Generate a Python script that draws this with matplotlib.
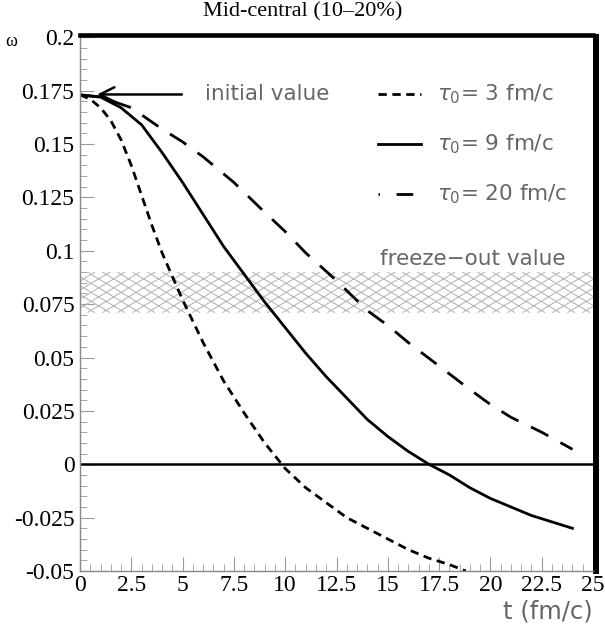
import numpy as np
import matplotlib.pyplot as plt
from matplotlib.ticker import MultipleLocator
from matplotlib.collections import LineCollection
from matplotlib.patches import Rectangle

# values
t3 = [0, 0.5, 1, 1.5, 2, 2.5, 3, 3.5, 4, 4.5, 5, 6, 7, 8, 9, 10, 11, 12, 13, 14, 15, 16, 17, 18, 18.8]
w3 = [0.173, 0.171, 0.167, 0.161, 0.152, 0.140, 0.126, 0.112, 0.099, 0.088, 0.077, 0.057, 0.039, 0.024, 0.010, -0.002, -0.011,
      -0.018, -0.025, -0.030, -0.035, -0.040, -0.044, -0.047, -0.050]
t9 = [0, 1, 2, 3, 4, 5, 6, 7, 8, 9, 10, 11, 12, 13, 14, 15, 16, 17, 18, 19, 20, 21, 22, 23, 24]
w9 = [0.173, 0.172, 0.167, 0.159, 0.146, 0.132, 0.117, 0.102, 0.089, 0.076, 0.064, 0.052, 0.041, 0.031, 0.021, 0.013, 0.006, 0.0,
      -0.005, -0.011, -0.016, -0.020, -0.024, -0.027, -0.030]
t20 = [0, 1, 2.5, 4, 5, 6, 7.5, 9, 10, 11, 12.5, 14, 15, 16, 17.5, 19, 20, 21, 22.5, 24]
w20 = [0.173, 0.172, 0.167, 0.157, 0.151, 0.144, 0.132, 0.118, 0.109, 0.099, 0.086, 0.072, 0.065, 0.057, 0.046, 0.035, 0.028, 0.022, 0.015, 0.007]
freeze_lo, freeze_hi = 0.071, 0.090
labels = [r'$\tau_0$= 3 fm/c', r'$\tau_0$= 9 fm/c', r'$\tau_0$= 20 fm/c']

plt.rcParams['mathtext.fontset'] = 'dejavusans'

fig = plt.figure(figsize=(6.05, 6.25), dpi=100)
ax = fig.add_axes([0.1322, 0.0864, 0.848, 0.854])
ax.set_xlim(0, 25)
ax.set_ylim(-0.05, 0.2)

# frame first: moving a spine resets the ticks
for s in ['left', 'bottom']:
    ax.spines[s].set_color('#888888')
    ax.spines[s].set_linewidth(1)
ax.spines['top'].set_color('black')
ax.spines['top'].set_linewidth(3.3)
ax.spines['top'].set_position(('outward', 1.6))
ax.spines['top'].set_capstyle('projecting')
ax.spines['right'].set_color('black')
ax.spines['right'].set_linewidth(4.3)
ax.spines['right'].set_position(('outward', 2.2))

# cross-hatched freeze-out band, diamonds wider than tall
band = Rectangle((0, freeze_lo), 25, freeze_hi - freeze_lo, facecolor='none', edgecolor='none')
ax.add_patch(band)
to_px = ax.transData
(xl, ylo), (xr, yhi) = to_px.transform([(0, freeze_lo), (25, freeze_hi)])
slope = 0.6
run = (yhi - ylo) / slope
segs = []
for x0 in np.arange(xl - run, xr + 15, 15):
    segs.append([(x0, ylo), (x0 + run, yhi)])
    segs.append([(x0, yhi), (x0 + run, ylo)])
segs = [to_px.inverted().transform(s) for s in segs]
hatch = LineCollection(segs, colors='#b0b0b0', linewidths=0.7)
ax.add_collection(hatch)
hatch.set_clip_path(band)

ax.axhline(0, color='black', lw=1.8)

ax.plot(t3, w3, color='black', lw=2, dashes=(3, 2))
ax.plot(t9, w9, color='black', lw=2)
ax.plot(t20, w20, color='black', lw=2, dashes=(7, 5))

gray = '#666666'
ax.text(14.6, freeze_hi + 0.0015, 'freeze\u2212out value', color=gray, fontsize=15.5, va='bottom')
ax.annotate('', xy=(0.7, 0.1732), xytext=(5.1, 0.1732),
            arrowprops=dict(arrowstyle='->', color='black', lw=1.8, mutation_scale=26))
ax.text(6.1, 0.1732, 'initial value', color=gray, fontsize=15.5, va='center')

# legend by hand
ly = [0.1732, 0.1498, 0.1264]
styles = [dict(dashes=(3, 2)), dict(), dict(dashes=(0.5, 6, 6, 3))]
for y, lab, st in zip(ly, labels, styles):
    ax.plot([14.5, 16.6], [y, y], color='black', lw=2, **st)
    ax.text(17.4, y, lab, color=gray, fontsize=15.5, va='center')

ax.xaxis.set_minor_locator(MultipleLocator(0.5))
ax.yaxis.set_minor_locator(MultipleLocator(0.005))
xt = np.arange(0, 25.1, 2.5)
yt = np.arange(-0.05, 0.2001, 0.025)
ax.tick_params(which='both', direction='in', color='#999999', top=False, right=False,
               labelsize=17, labelfontfamily='Liberation Serif')
ax.tick_params(which='major', length=10, pad=4)
ax.tick_params(which='minor', length=5)
ax.tick_params(axis='x', pad=3)
ax.set_xticks(xt)
ax.set_yticks(yt)
ax.set_xticklabels(['%g' % v for v in xt])
ax.set_yticklabels(['%g' % round(v, 3) for v in yt])

fig.text(0.5, 1 - 12 / 625, 'Mid-central (10\u201320%)', family='Liberation Serif', fontsize=16,
         ha='center', va='center')
fig.text(0.008, 0.934, '\u03c9', family='Liberation Serif', fontsize=13, va='center')
fig.text(0.98, 0.002, 't (fm/c)', color=gray, fontsize=17.5, ha='right', va='bottom')

fig.savefig('out.png', dpi=100)
